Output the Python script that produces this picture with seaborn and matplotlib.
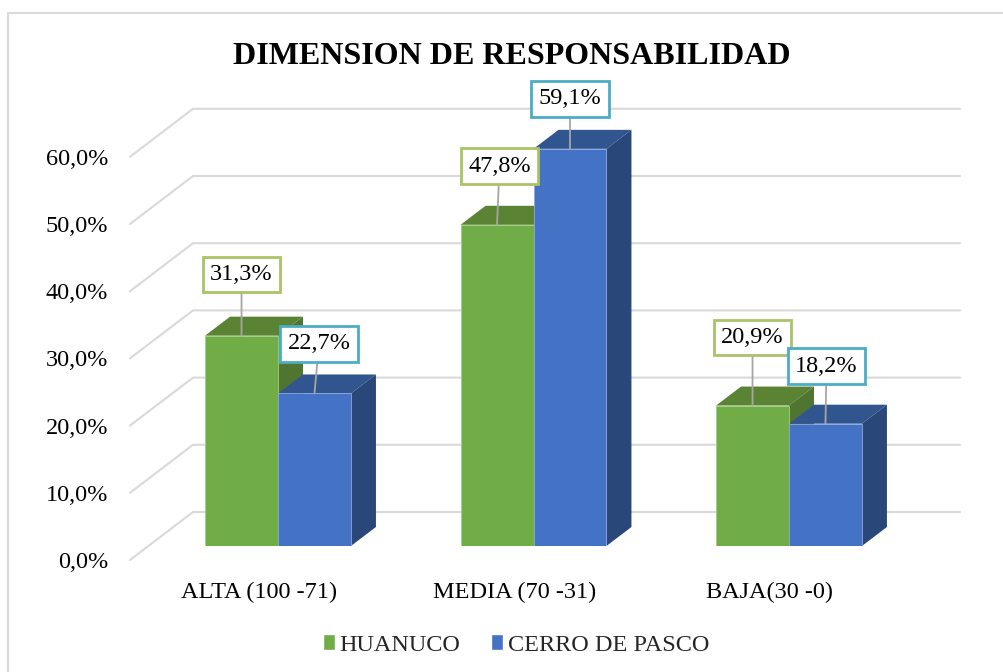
"""
Dimension de responsabilidad - pseudo 3D grouped bars
"""

import matplotlib
matplotlib.use('Agg')
import matplotlib.pyplot as plt
from matplotlib.lines import Line2D
from matplotlib.patches import Polygon
from matplotlib.transforms import ScaledTranslation
import pandas as pd
import seaborn as sns

CATEGORIES = ['ALTA (100 -71)', 'MEDIA (70 -31)', 'BAJA(30 -0)']
HUANUCO = [31.3, 47.8, 20.9]
CERRO = [22.7, 59.1, 18.2]
SERIES = ['HUANUCO', 'CERRO DE PASCO']
YTICKS = [0, 10, 20, 30, 40, 50, 60]

FRONT = ['#70AD47', '#4472C4']
EDGE = ['#A3CF87', '#8CA8DC']
TOP = ['#5A8433', '#31568F']
SIDE = ['#507530', '#2A4779']
BOX_EDGE = ['#A9C467', '#4BACC6']

# data labels sit off the bars, offsets in pixels from the bar top
OFFSETS = [(0, 61), (2.5, 58.5), (0, 68), (4.5, 49.5), (0, 50), (1, 57.5)]

FS = 17.5

# pixel size of one data unit
PX_X = 1 / 255.5
PX_Y = 1 / 6.72
DEPTH_X, DEPTH_Y = 25 * PX_X, 19 * PX_Y

sns.set_theme(style='white')
plt.rcParams['font.family'] = ['Liberation Serif', 'DejaVu Serif']

df = pd.DataFrame({
    'cat': CATEGORIES * 2,
    'serie': [SERIES[0]] * 3 + [SERIES[1]] * 3,
    'val': HUANUCO + CERRO,
})

fig = plt.figure(figsize=(10.04, 6.72), dpi=100)
ax = fig.add_axes([130 / 1004, (672 - 546) / 672, 830 / 1004, 436 / 672])

sns.barplot(data=df, x='cat', y='val', hue='serie', palette=FRONT, order=CATEGORIES,
            hue_order=SERIES, width=0.571, gap=0, saturation=1, zorder=3, ax=ax)

xl, xr = (130 - 278) * PX_X, (960 - 278) * PX_X
ax.set_xlim(xl, xr)
ax.set_ylim(0, 436 * PX_Y)
sns.despine(ax=ax, left=True, bottom=True)

# back wall: grid with the diagonal running to the front
for t in YTICKS:
    ax.plot([xl, xl + 63 * PX_X, xr],
            [t - 14 * PX_Y, t + 34 * PX_Y, t + 34 * PX_Y],
            color='#D9D9D9', lw=1.5, zorder=1, clip_on=False)

# side and top faces of each bar
bars = [p for c in ax.containers for p in c]
for i, p in enumerate(bars):
    s = i // 3
    x0, w, h = p.get_x(), p.get_width(), p.get_height()
    x1 = x0 + w
    p.set_zorder(3 + s * 0.1)
    p.set_edgecolor(EDGE[s])
    p.set_linewidth(0.6)
    ax.add_patch(Polygon([(x0, h), (x1, h), (x1 + DEPTH_X, h + DEPTH_Y), (x0 + DEPTH_X, h + DEPTH_Y)],
                         facecolor=TOP[s], edgecolor='none', zorder=2 + s * 0.1, clip_on=False))
    ax.add_patch(Polygon([(x1, 0), (x1 + DEPTH_X, DEPTH_Y), (x1 + DEPTH_X, h + DEPTH_Y), (x1, h)],
                         facecolor=SIDE[s], edgecolor='none', zorder=2 + s * 0.1, clip_on=False))
    label = f'{h:.1f}%'.replace('.', ',')
    ax.annotate(label, xy=(x0 + w / 2, h), xytext=OFFSETS[i], textcoords='offset pixels',
                ha='center', va='center', fontsize=FS, color='black', zorder=5,
                bbox=dict(boxstyle='square,pad=0.3', fc='white', ec=BOX_EDGE[s], lw=2),
                arrowprops=dict(arrowstyle='-', color='#A6A6A6', lw=1.3, shrinkA=0, shrinkB=0))

# ticks live on the floor plane, so shift the labels off the axes
ax.set_yticks(YTICKS)
ax.set_yticklabels([f'{t:.1f}%'.replace('.', ',') for t in YTICKS], fontsize=FS, color='black')
ax.set_xlabel('')
ax.set_ylabel('')
ax.tick_params(axis='y', length=0, pad=15.8)
ax.tick_params(axis='x', length=0, pad=25.5, labelsize=FS, labelcolor='black')
for lab in ax.get_yticklabels():
    lab.set_transform(lab.get_transform() + ScaledTranslation(0, -14 / 100, fig.dpi_scale_trans))
for lab in ax.get_xticklabels():
    lab.set_transform(lab.get_transform() + ScaledTranslation(-19 / 100, 0, fig.dpi_scale_trans))

fig.text(512 / 1004, 1 - 56 / 672, 'DIMENSION DE RESPONSABILIDAD', ha='center', va='center',
         fontsize=23, fontweight='bold', color='black')

handles, labels = ax.get_legend_handles_labels()
ax.legend(handles, labels, loc='center', bbox_to_anchor=(516 / 1004, 1 - 645 / 672),
          bbox_transform=fig.transFigure, ncol=2, frameon=False, fontsize=FS,
          handlelength=0.5, handleheight=0.6, handletextpad=0.2, columnspacing=1.25)

# chart frame, only left and top are in the crop
fig.add_artist(Line2D([8 / 1004, 8 / 1004, 1], [0, 1 - 13 / 672, 1 - 13 / 672],
                      transform=fig.transFigure, color='#D9D9D9', lw=1.5))

fig.savefig('out.png', dpi=100)
